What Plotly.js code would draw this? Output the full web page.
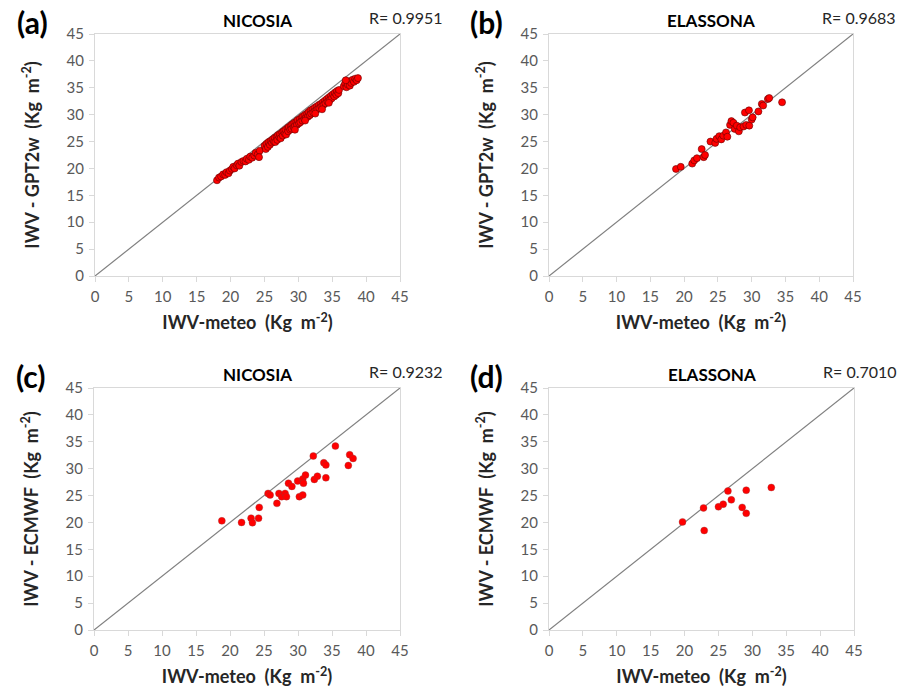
<!DOCTYPE html>
<html>
<head>
<meta charset="utf-8">
<script src="https://cdn.plot.ly/plotly-3.0.1.min.js"></script>
<style>html,body{margin:0;padding:0;background:#fff;}#chart{width:900px;height:690px;}</style>
</head>
<body>
<div id="chart"></div>
<script>
// Panel (a): NICOSIA, IWV-meteo vs IWV-GPT2w
var nicGptX = [18.0,18.3,18.6,18.9,19.2,19.4,19.7,19.9,20.2,20.4,20.6,20.9,21.1,21.3,21.6,21.9,22.2,22.4,22.7,22.9,23.2,23.5,23.7,24.0,24.3,24.2,
  25.0,25.2,25.3,25.5,25.6,25.8,25.9,26.1,26.2,26.4,26.5,26.6,26.8,26.9,27.0,27.2,27.3,27.4,27.6,27.7,27.8,28.0,28.1,28.2,28.4,28.5,28.6,28.8,28.9,29.0,
  29.1,29.3,29.4,29.5,29.7,29.8,29.9,30.1,30.2,30.3,30.5,30.6,30.7,30.9,31.0,31.1,31.3,31.4,31.5,31.7,31.8,31.9,32.1,32.2,32.4,32.5,32.7,32.8,33.0,33.1,
  33.3,33.4,33.6,33.7,33.9,34.0,34.2,34.3,34.5,34.6,34.8,34.9,35.1,35.3,35.4,35.6,35.7,35.9,36.0,
  29.5,31.0,32.5,33.5,34.5,
  36.7,36.9,37.1,37.3,37.5,37.6,37.8,38.0,38.2,38.4,38.6,38.8,37.0];
var nicGptY = [17.8,18.3,18.5,18.9,18.8,19.3,19.1,19.6,19.9,20.3,20.0,20.6,20.9,20.5,21.2,21.4,21.3,21.8,21.6,22.2,22.0,22.4,22.9,22.6,23.3,22.1,
  24.2,23.6,24.6,24.0,24.9,24.4,25.1,24.8,25.4,25.0,25.7,24.9,25.9,25.3,26.2,25.8,26.4,25.6,26.7,26.1,26.9,26.5,27.2,26.3,27.5,26.9,27.7,27.2,28.0,27.4,
  28.2,27.7,28.5,27.9,28.7,28.1,29.0,28.4,29.2,28.6,29.5,28.9,29.7,29.2,30.0,29.4,30.2,29.6,30.5,29.9,30.8,30.2,31.0,30.4,31.3,30.7,31.5,31.0,31.8,31.2,
  32.0,31.5,32.3,31.8,32.6,32.1,32.9,32.4,33.2,32.7,33.5,33.0,33.8,33.4,34.1,33.7,34.4,34.0,34.6,
  27.2,28.9,30.2,31.0,32.2,
  35.3,35.8,35.1,35.6,36.2,35.4,35.9,36.5,36.1,36.7,36.4,36.8,36.4];

// Panel (b): ELASSONA, IWV-meteo vs IWV-GPT2w
var elaGptX = [18.8,19.5,21.2,21.5,21.9,22.6,22.9,23.1,23.9,24.6,24.8,25.2,25.5,25.8,26.2,26.4,26.8,27.0,27.3,27.5,27.8,28.1,28.3,28.8,29.0,29.2,29.6,29.65,30.0,30.15,31.0,31.5,31.7,32.4,32.6,34.5];
var elaGptY = [19.9,20.3,20.9,21.5,21.9,23.6,22.1,22.5,25.0,24.75,25.5,26.0,25.4,26.1,26.7,25.9,28.1,28.8,28.5,27.35,27.96,26.9,27.65,27.8,30.4,28.1,30.8,27.96,29.1,29.5,30.6,32.0,31.7,32.9,33.1,32.3];

// Panel (c): NICOSIA, IWV-meteo vs IWV-ECMWF
var nicEcX = [18.8,21.7,23.1,23.3,24.2,24.3,25.6,25.9,26.9,27.2,27.6,28.1,28.3,28.6,29.1,29.95,30.2,30.7,30.7,30.8,31.1,32.25,32.4,32.85,33.8,34.1,34.1,35.5,37.4,37.6,38.1];
var nicEcY = [20.3,20.0,20.8,19.95,20.8,22.8,25.4,25.1,23.55,25.4,24.8,25.4,24.8,27.3,26.7,27.7,24.8,25.1,28.1,27.3,28.8,32.35,28.0,28.6,31.1,30.7,28.3,34.2,30.6,32.6,31.9];

// Panel (d): ELASSONA, IWV-meteo vs IWV-ECMWF
var elaEcX = [19.7,22.8,22.9,25.0,25.7,26.4,26.9,28.5,29.1,29.1,32.8];
var elaEcY = [20.1,22.7,18.5,22.9,23.4,25.85,24.2,22.8,26.0,21.7,26.5];

// 1:1 reference line
var lineX = [0, 45];
var lineY = [0, 45];

var axisTicks = [0,5,10,15,20,25,30,35,40,45];
var panelLetters = ['(a)','(b)','(c)','(d)'];
var stationNames = ['NICOSIA','ELASSONA','NICOSIA','ELASSONA'];
var rValues = ['R= 0.9951','R= 0.9683','R= 0.9232','R= 0.7010'];
var xTitle = 'IWV-meteo  (Kg  m<sup>-2</sup>)';
var yTitles = ['IWV - GPT2w  (Kg  m<sup>-2</sup>)','IWV - GPT2w  (Kg  m<sup>-2</sup>)','IWV - ECMWF  (Kg  m<sup>-2</sup>)','IWV - ECMWF  (Kg  m<sup>-2</sup>)'];

var FONT = 'Lato, "Open Sans", sans-serif';
var W = 900, H = 690;
// plot-area pixel boxes [left, right, top, bottom]
var boxes = [[95,400,34,276],[549,853,34,276],[94,400,388,630],[549,854,388,630]];

var sets = [[nicGptX,nicGptY],[elaGptX,elaGptY],[nicEcX,nicEcY],[elaEcX,elaEcY]];
var traces = [];
var layout = {
  width: W, height: H,
  margin: {l:0,r:0,t:0,b:0},
  paper_bgcolor: '#ffffff', plot_bgcolor: '#ffffff',
  showlegend: false,
  font: {family: FONT, color: '#262626'},
  annotations: []
};

for (var i = 0; i < 4; i++) {
  var s = i === 0 ? '' : String(i+1);
  var b = boxes[i];
  traces.push({
    type: 'scatter', mode: 'lines', x: lineX, y: lineY,
    xaxis: 'x'+s, yaxis: 'y'+s,
    line: {color: '#808080', width: 1.2}, hoverinfo: 'skip'
  });
  traces.push({
    type: 'scatter', mode: 'markers', x: sets[i][0], y: sets[i][1],
    xaxis: 'x'+s, yaxis: 'y'+s,
    marker: {color: '#ff0000', size: 7,
      line: {color: i < 2 ? 'rgba(100,0,0,0.85)' : 'rgba(140,60,60,0.5)', width: 0.7}}
  });
  var axBase = {
    range: [0,45], tickvals: axisTicks, ticktext: axisTicks.map(String),
    showline: true, linecolor: '#d9d9d9', linewidth: 1, mirror: true,
    ticks: 'outside', ticklen: 5, tickcolor: '#d9d9d9', tickwidth: 1,
    showgrid: false, zeroline: false, fixedrange: true,
    tickfont: {family: FONT, size: 15, color: '#595959'}
  };
  var xa = Object.assign({}, axBase, {
    domain: [b[0]/W, b[1]/W], anchor: 'y'+s, ticklabelstandoff: 2,
    title: {text: xTitle, font: {family: FONT, size: 18, color: '#262626', weight: 'bold'}, standoff: 12}
  });
  var ya = Object.assign({}, axBase, {
    domain: [1 - b[3]/H, 1 - b[2]/H], anchor: 'x'+s, ticklabelstandoff: 2,
    title: {text: yTitles[i], font: {family: FONT, size: 18, color: '#262626', weight: 'bold'}, standoff: 22}
  });
  layout['xaxis'+s] = xa;
  layout['yaxis'+s] = ya;

  layout.annotations.push({
    xref: 'paper', yref: 'paper', x: (b[0]-63)/W, y: 1 - (b[2]-12)/H,
    xanchor: 'center', yanchor: 'middle', showarrow: false,
    text: '<b>'+panelLetters[i]+'</b>', font: {family: FONT, size: 30, color: '#000000'}
  });
  layout.annotations.push({
    xref: 'paper', yref: 'paper', x: ((b[0]+b[1])/2 + 10)/W, y: 1 - (b[2]-14)/H,
    xanchor: 'center', yanchor: 'middle', showarrow: false,
    text: '<b>'+stationNames[i]+'</b>', font: {family: FONT, size: 17, color: '#000000'}
  });
  layout.annotations.push({
    xref: 'paper', yref: 'paper', x: (b[1]+45)/W, y: 1 - (b[2]-17)/H,
    xanchor: 'right', yanchor: 'middle', showarrow: false,
    text: rValues[i], font: {family: FONT, size: 16, color: '#262626'}
  });
}

Plotly.newPlot('chart', traces, layout, {displayModeBar: false, staticPlot: true});
</script>
</body>
</html>
